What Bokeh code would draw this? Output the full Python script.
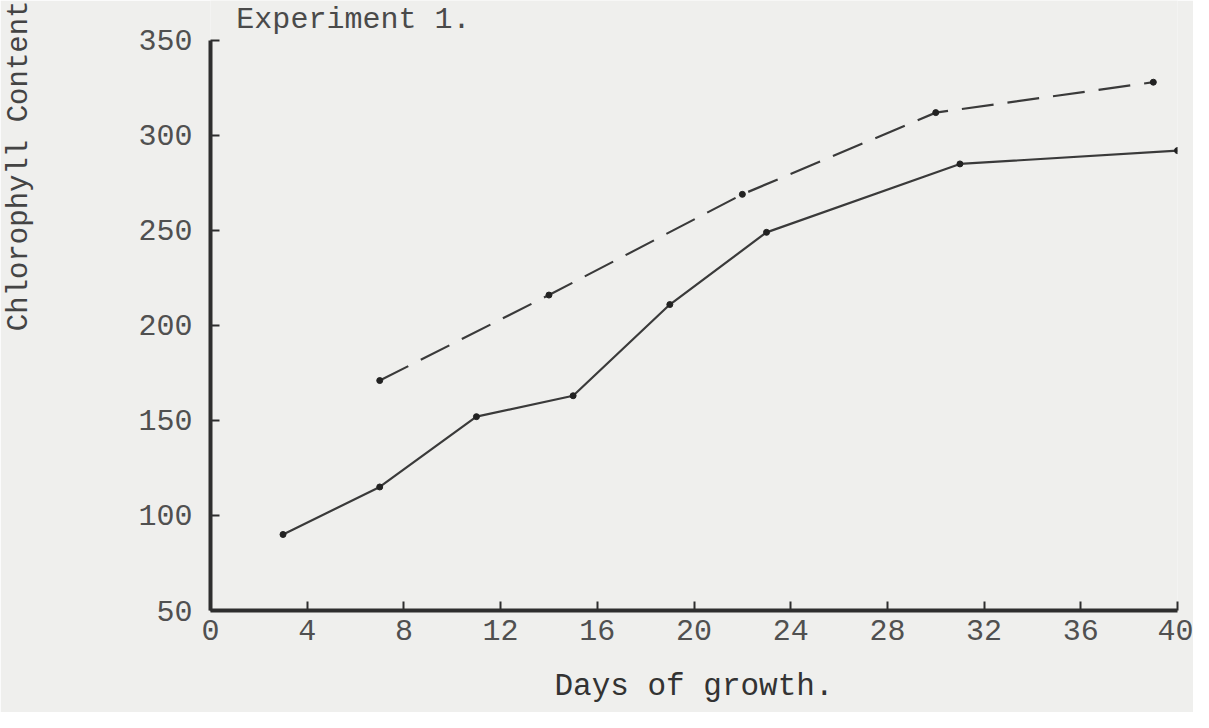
from bokeh.plotting import figure
from bokeh.models import Range1d, FixedTicker, Label, Title
from bokeh.embed import file_html
from bokeh.resources import INLINE

# --- data ---
days_solid = [3, 7, 11, 15, 19, 23, 31, 40]
chl_solid = [90, 115, 152, 163, 211, 249, 285, 292]
days_dashed = [7, 14, 22, 30, 39]
chl_dashed = [171, 216, 269, 312, 328]
x_ticks = [0, 4, 8, 12, 16, 20, 24, 28, 32, 36, 40]
y_ticks = [50, 100, 150, 200, 250, 300, 350]

FONT = "Liberation Mono"
BG = "#efefed"
INK = "#3a3a3a"

# frame reaches the top of the canvas; the axis line itself stops at 350
p = figure(width=1193, height=712, output_backend="svg", toolbar_location=None,
           x_range=Range1d(0, 40), y_range=Range1d(50, 371),
           min_border_left=209, min_border_right=16, min_border_top=0, min_border_bottom=102)
p.background_fill_color = BG
p.border_fill_color = BG
p.outline_line_color = None
p.grid.visible = False

for ax in (p.xaxis[0], p.yaxis[0]):
    ax.axis_line_color = "#2e2e2e"
    ax.axis_line_width = 4
    ax.major_tick_line_color = "#2e2e2e"
    ax.major_tick_line_width = 2
    ax.major_tick_in = 9
    ax.major_tick_out = 0
    ax.minor_tick_line_color = None
    ax.major_label_text_font = FONT
    ax.major_label_text_font_size = "30px"
    ax.major_label_text_color = "#505050"

p.xaxis.ticker = FixedTicker(ticks=x_ticks)
p.yaxis.ticker = FixedTicker(ticks=y_ticks)
p.yaxis.bounds = (50, 350)
p.xaxis.major_label_standoff = 9
p.yaxis.major_label_standoff = 18

p.xaxis.axis_label = "Days of growth."
p.xaxis.axis_label_text_font = FONT
p.xaxis.axis_label_text_font_size = "31px"
p.xaxis.axis_label_text_font_style = "normal"
p.xaxis.axis_label_text_color = "#333333"
p.xaxis.axis_label_standoff = 26

# spacer panel between the y axis and its rotated label
spacer = Title(text="\u00a0", text_font_size="1px", standoff=97, text_color=BG)
p.add_layout(spacer, "left")
ylab = Title(text="Chlorophyll Content", align="right", text_font=FONT,
             text_font_size="29px", text_font_style="normal", text_color="#444444",
             standoff=0, offset=0)
p.add_layout(ylab, "left")

p.line(days_solid, chl_solid, line_color=INK, line_width=2.2)
p.scatter(days_solid, chl_solid, size=6, color="#222222")
p.line(days_dashed, chl_dashed, line_color=INK, line_width=2.2, line_dash="32 14")
p.scatter(days_dashed, chl_dashed, size=6, color="#222222")

p.add_layout(Label(x=1.07, y=361, text="Experiment 1.", text_font=FONT,
                   text_font_size="30px", text_color="#4a4a4a",
                   text_align="left", text_baseline="middle"))

open("out.html", "w").write(file_html(p, INLINE))
